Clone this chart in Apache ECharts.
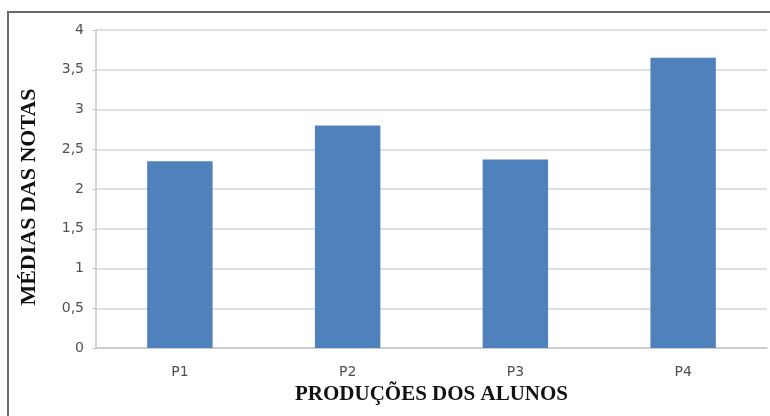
<!DOCTYPE html>
<html>
<head>
<meta charset="utf-8">
<script src="https://cdn.jsdelivr.net/npm/echarts@6/dist/echarts.min.js"></script>
<style>
  html, body { margin: 0; padding: 0; background: #fff; }
  #chart { width: 770px; height: 416px; }
  #frame {
    position: absolute; left: 7px; top: 11px; width: 770px; height: 420px;
    border: 2px solid #6b6b6b; pointer-events: none;
  }
</style>
</head>
<body>
<div id="chart"></div>
<div id="frame"></div>
<script>
const categories = ['P1', 'P2', 'P3', 'P4']
const medias = [2.35, 2.8, 2.37, 3.65]

const chart = echarts.init(document.getElementById('chart'))

chart.setOption({
  animation: false,
  grid: {
    left: 96,
    right: 3,
    top: 30,
    bottom: 68,
  },
  xAxis: {
    type: 'category',
    data: categories,
    name: 'PRODUÇÕES DOS ALUNOS',
    nameLocation: 'middle',
    nameGap: 35,
    nameTextStyle: {
      fontFamily: 'Liberation Serif',
      fontWeight: 'bold',
      fontSize: 21,
      color: '#111',
    },
    axisLine: { lineStyle: { color: '#c8c8c8', width: 1.5 } },
    axisTick: { show: false },
    axisLabel: {
      margin: 17,
      fontFamily: 'DejaVu Sans',
      fontSize: 14,
      color: '#505050',
    },
  },
  yAxis: {
    type: 'value',
    min: 0,
    max: 4,
    interval: 0.5,
    name: 'MÉDIAS DAS NOTAS',
    nameLocation: 'middle',
    nameGap: 56,
    nameRotate: 90,
    nameTextStyle: {
      fontFamily: 'Liberation Serif',
      fontWeight: 'bold',
      fontSize: 22,
      color: '#111',
      padding: [0, 16, 0, 0],
    },
    axisLine: { show: true, lineStyle: { color: '#c8c8c8', width: 1.5 } },
    axisTick: { show: true, length: 4, lineStyle: { color: '#c8c8c8' } },
    axisLabel: {
      margin: 12,
      fontFamily: 'DejaVu Sans',
      fontSize: 14,
      color: '#505050',
      formatter: (v) => String(v).replace('.', ','),
    },
    splitLine: { lineStyle: { color: '#d4d4d4', width: 1.5 } },
  },
  series: [
    {
      type: 'bar',
      data: medias,
      barWidth: '39%',
      itemStyle: { color: '#4f81bd' },
    },
  ],
})
</script>
</body>
</html>
